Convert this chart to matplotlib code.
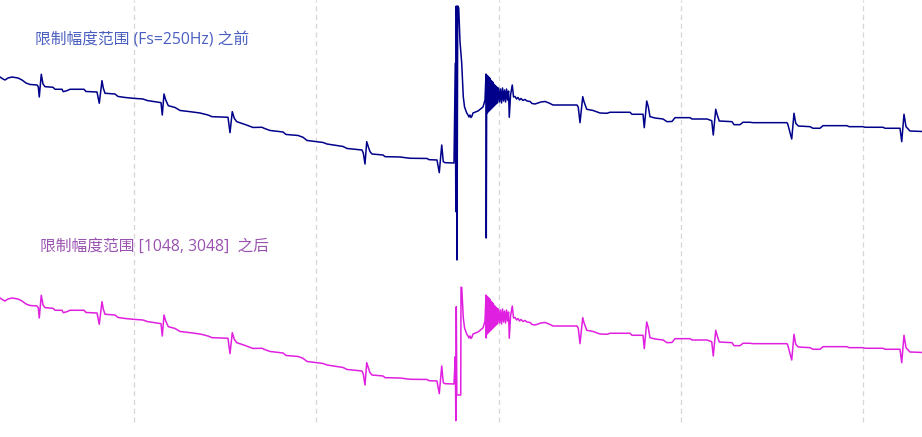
import numpy as np
import matplotlib
matplotlib.use("Agg")
import matplotlib.pyplot as plt

plt.rcParams['font.family'] = ['Noto Sans CJK SC', 'DejaVu Sans']

# ---------------- data (time in s, amplitude in ADC counts) ----------------
# shared part before the artefact burst
t_pre = [0.000, 0.033, 0.055, 0.088, 0.132, 0.198, 0.242, 0.286, 0.330, 0.407,
         0.421, 0.432, 0.454, 0.473, 0.495, 0.583, 0.605, 0.682, 0.696, 0.737,
         0.770, 0.924, 0.946, 1.067, 1.092, 1.122, 1.136, 1.155, 1.265, 1.298,
         1.375, 1.463, 1.573, 1.617, 1.727, 1.771, 1.785, 1.804, 1.823, 1.851,
         1.925, 1.980, 2.090, 2.200, 2.288, 2.332, 2.508, 2.530, 2.555, 2.577,
         2.604, 2.695, 2.783, 2.882, 2.904, 2.970, 3.113, 3.146, 3.278, 3.333,
         3.377, 3.553, 3.597, 3.773, 3.817, 3.982, 3.996, 4.015, 4.034, 4.051,
         4.070, 4.092, 4.213, 4.235, 4.400, 4.510, 4.697, 4.719, 4.807, 4.832,
         4.859, 4.876, 4.895, 4.994]
v_pre = [2888, 2858, 2843, 2873, 2888, 2873, 2843, 2798, 2776, 2768,
         2743, 2588, 2929, 2783, 2743, 2734, 2704, 2704, 2668, 2683,
         2704, 2704, 2671, 2663, 2494, 2833, 2723, 2644, 2633, 2596,
         2581, 2569, 2558, 2536, 2513, 2503, 2318, 2633, 2543, 2458,
         2431, 2386, 2368, 2348, 2318, 2293, 2284, 2053, 2368, 2269,
         2218, 2176, 2131, 2134, 2119, 2086, 2063, 2026, 2011, 1984,
         1936, 1906, 1883, 1846, 1816, 1793, 1748, 1583, 1918, 1843,
         1768, 1733, 1718, 1693, 1688, 1669, 1666, 1648, 1643, 1453,
         1868, 1618, 1603, 1598]

# burst, original signal (before amplitude limiting)
t_burst_before = [5.008, 5.014, 5.019, 5.027, 5.035, 5.046, 5.060, 5.079, 5.096, 5.110,
                  5.134, 5.148, 5.159, 5.170, 5.181, 5.192, 5.203, 5.258, 5.313, 5.335,
                  5.346, 5.349]
v_burst_before = [3094, 868, 3953, 143, 3953, 3923, 3418, 3094, 2593, 2438,
                  2348, 2318, 2288, 2318, 2281, 2303, 2348, 2378, 2438, 2543,
                  2933, 473]

# burst, after limiting to [1048, 3048]
t_burst_after = [5.008, 5.014, 5.019, 5.025, 5.068, 5.071, 5.079, 5.096, 5.110,
                 5.134, 5.148, 5.159, 5.170, 5.181, 5.192, 5.203, 5.258, 5.313, 5.335,
                 5.346, 5.349]
v_burst_after = [2008, 1048, 2758, 1433, 1433, 3048, 3048, 2593, 2438,
                 2348, 2318, 2288, 2318, 2281, 2303, 2348, 2378, 2438, 2543,
                 2933, 2288]

# shared part after the burst
t_post = [5.354, 5.359, 5.365, 5.370, 5.376, 5.381, 5.387, 5.392, 5.398, 5.403,
          5.409, 5.414, 5.420, 5.425, 5.431, 5.436, 5.442, 5.447, 5.453, 5.458,
          5.464, 5.473, 5.484, 5.495, 5.506, 5.517, 5.528, 5.539, 5.550, 5.561,
          5.572, 5.583, 5.594, 5.602, 5.616, 5.635, 5.649, 5.665, 5.682, 5.698,
          5.715, 5.731, 5.753, 5.775, 5.797, 5.830, 5.852, 5.885, 5.918, 5.951,
          5.995, 6.039, 6.083, 6.215, 6.347, 6.361, 6.380, 6.410, 6.424, 6.454,
          6.523, 6.600, 6.677, 6.710, 6.930, 6.952, 7.073, 7.087, 7.114, 7.131,
          7.150, 7.205, 7.293, 7.337, 7.392, 7.425, 7.590, 7.612, 7.777, 7.829,
          7.846, 7.873, 7.890, 7.912, 8.052, 8.074, 8.140, 8.173, 8.250, 8.283,
          8.657, 8.665, 8.709, 8.734, 8.753, 8.781, 8.910, 8.943, 9.020, 9.053,
          9.317, 9.339, 9.493, 9.515, 9.713, 9.735, 9.900, 9.919, 9.944, 9.966,
          10.010, 10.142]
v_post = [2918, 2348, 2903, 2363, 2888, 2378, 2873, 2393, 2843, 2408,
          2828, 2423, 2813, 2438, 2783, 2453, 2768, 2468, 2753, 2483,
          2738, 2498, 2723, 2513, 2708, 2498, 2723, 2528, 2693, 2513,
          2708, 2543, 2678, 2284, 2618, 2768, 2588, 2596, 2558, 2581,
          2543, 2566, 2536, 2551, 2528, 2521, 2491, 2483, 2498, 2513,
          2521, 2498, 2468, 2468, 2468, 2434, 2203, 2593, 2518, 2404,
          2386, 2348, 2344, 2359, 2359, 2329, 2329, 2128, 2528, 2443,
          2293, 2273, 2258, 2218, 2221, 2278, 2278, 2258, 2258, 2233,
          2018, 2404, 2318, 2228, 2218, 2173, 2173, 2209, 2209, 2203,
          2203, 2183, 1958, 2344, 2194, 2153, 2143, 2119, 2119, 2158,
          2158, 2143, 2143, 2134, 2134, 2119, 2119, 1918, 2329, 2143,
          2078, 2071]

grid_t = [1.474, 3.476, 5.489, 7.491, 9.493]
label_before = "限制幅度范围 (Fs=250Hz) 之前"
label_after = "限制幅度范围 [1048, 3048]  之后"
trace_offset = 3315   # vertical offset of the "before" trace

# ---------------- assemble ----------------
t_before = np.array(t_pre + t_burst_before + t_post)
v_before = np.array(v_pre + v_burst_before + v_post, dtype=float)
t_after = np.array(t_pre + t_burst_after + t_post)
v_after = np.array(v_pre + v_burst_after + v_post, dtype=float)

fig = plt.figure(figsize=(9.22, 4.37), dpi=100)
ax = fig.add_axes([0, 0, 1, 1])
ax.set_xlim(0, 10.142)
ax.set_ylim(803, 7358)
ax.axis('off')

ax.vlines(grid_t, 1030, 7358, colors='#d6d6d6', linestyles=(0, (4, 3)), lw=0.9, zorder=0)

ax.plot(t_before, v_before + trace_offset, color='#00008b', lw=1.1, zorder=3)
ax.plot(t_after, v_after, color='#e020e0', lw=1.1, zorder=2)

label_font = ['Open Sans', 'Noto Sans CJK SC']
ax.text(35 / 922, 1 - 40 / 437, label_before, transform=ax.transAxes, family=label_font,
        color='#4a5ec0', fontsize=11.3, va='center', ha='left')
ax.text(40 / 922, 1 - 247 / 437, label_after, transform=ax.transAxes, family=label_font,
        color='#9a52b0', fontsize=11.3, va='center', ha='left')

fig.savefig('out.png', dpi=100)
